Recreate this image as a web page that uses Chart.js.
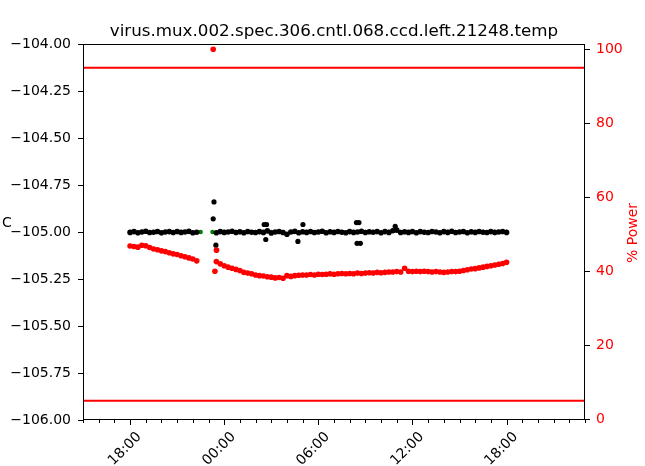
<!DOCTYPE html>
<html>
<head>
<meta charset="utf-8">
<script src="https://cdn.jsdelivr.net/npm/chart.js@4.4.1/dist/chart.umd.min.js"></script>
<style>
  html, body { margin: 0; padding: 0; background: #fff; }
  canvas { display: block; }
</style>
</head>
<body>
<canvas id="myChart" width="645" height="466"></canvas>
<script>
const chartTitle = 'virus.mux.002.spec.306.cntl.068.ccd.left.21248.temp';

// regular samples, hours counted from midnight of the first day
const sampleStart = 18;
const sampleStep = 0.25;

const tempValues = [
  -105.002, -104.998, -105.004, -105.000, -104.996, -105.003, -105.001, -104.997, -105.004,
  -105.000, -104.998, -105.003, -104.997, -105.002, -105.000, -104.996, -105.004, -105.001,
  null, null, null, null,
  -105.004, -104.998,
  -105.002, -105.000, -104.996, -105.003,
  -104.999, -105.004, -104.997, -105.001,
  -105.003, -104.998, -105.002, -104.994,
  -105.005, -105.000, -104.997, -105.003,
  -105.012, -105.000, -104.996, -105.004,
  -104.999, -105.002, -104.997, -105.003,
  -105.000, -104.996, -105.004, -104.999,
  -105.002, -104.997, -105.001, -105.004,
  -104.998, -105.002, -105.000, -104.996,
  -105.003, -104.999, -105.001, -104.997,
  -105.004, -104.998, -105.002, -104.993,
  -104.990, -105.003, -104.999, -105.002,
  -104.997, -105.004, -104.998, -105.001,
  -105.003, -104.997, -105.000, -105.004,
  -104.998, -105.002, -104.996, -105.003,
  -105.000, -104.997, -105.004, -104.999,
  -105.002, -104.997, -105.001, -105.003,
  -104.998, -105.002, -105.000, -104.997,
  -105.002
];

const powerValues = [
  46.8, 46.7, 46.5, 47.0, 46.9, 46.4, 46.0, 45.8, 45.5,
  45.3, 45.0, 44.7, 44.5, 44.2, 43.9, 43.6, 43.3, 42.8,
  null, null, null, null,
  42.6, 42.0,
  41.5, 41.1, 40.8, 40.5,
  40.2, 39.7, 39.5, 39.3,
  39.0, 38.8, 38.7, 38.5,
  38.4, 38.2, 38.3, 38.1,
  38.8, 38.6, 38.8, 38.9,
  39.0, 39.0, 39.1, 39.0,
  39.2, 39.1, 39.2, 39.3,
  39.2, 39.3, 39.4, 39.3,
  39.4, 39.3, 39.5, 39.4,
  39.5, 39.6, 39.5, 39.7,
  39.6, 39.7, 39.8, 39.8,
  39.9, 39.8, 40.8, 40.0,
  39.9, 40.0, 39.9, 40.0,
  39.9, 39.8, 39.9, 39.8,
  39.7, 39.8, 39.9, 39.9,
  40.0, 40.2, 40.4, 40.6,
  40.7, 40.9, 41.1, 41.3,
  41.5, 41.7, 41.9, 42.1,
  42.4
];

// setpoint is logged less often
const setStart = 18;
const setStep = 0.75;
const setValues = [
  -105, -105, -105, -105, -105, -105, -105, -105, -105, -105, -105,
  -105, -105, -105, -105, -105, -105, -105, -105, -105, -105, -105,
  -105, -105, -105, -105, -105, -105, -105, -105, -105, -105, -105
];

// odd readings off the regular grid
const tempExtraHours = [23.30, 23.35, 23.47, 26.55, 26.70, 26.65, 28.70, 29.02, 32.43, 32.59, 32.47, 32.68, 34.90];
const tempExtraValues = [-104.93, -104.84, -105.07, -104.96, -104.96, -105.04, -105.05, -104.96, -104.95, -104.95, -105.06, -105.06, -104.97];
const powerExtraHours = [23.30, 23.51, 23.41];
const powerExtraValues = [100, 45.7, 40.0];

// power limits (right axis)
const limitHours = [15, 47];
const limitHigh = 95;
const limitLow = 5;

const xTickHours = [18, 24, 30, 36, 42];
const xTickLabels = ['18:00', '00:00', '06:00', '12:00', '18:00'];
const powerTicks = [0, 20, 40, 60, 80, 100];

function regular(start, step, values) {
  return values.map((v, i) => ({ x: start + i * step, y: v }));
}
function paired(xs, ys) {
  return xs.map((x, i) => ({ x: x, y: ys[i] }));
}

Chart.defaults.font.family = 'DejaVu Sans';
Chart.defaults.font.size = 14;
Chart.defaults.color = '#000';

const decorations = {
  id: 'decorations',
  afterDraw(chart) {
    const ctx = chart.ctx;
    const a = chart.chartArea;
    const xs = chart.scales.x;
    ctx.save();
    ctx.strokeStyle = '#000';
    ctx.lineWidth = 1;
    ctx.strokeRect(Math.round(a.left) + 0.5, Math.round(a.top) + 0.5,
      Math.round(a.right - a.left) - 1, Math.round(a.bottom - a.top) - 1);

    // hourly minor ticks, major every 6 hours
    ctx.beginPath();
    for (let h = Math.ceil(xs.min); h <= xs.max; h++) {
      const px = Math.round(xs.getPixelForValue(h)) + 0.5;
      const len = xTickHours.includes(h) ? 5 : 3;
      ctx.moveTo(px, a.bottom);
      ctx.lineTo(px, a.bottom + len);
    }
    ctx.stroke();

    ctx.fillStyle = '#000';
    ctx.font = '14px DejaVu Sans';
    ctx.textAlign = 'center';
    ctx.textBaseline = 'middle';
    xTickHours.forEach((h, i) => {
      ctx.save();
      ctx.translate(xs.getPixelForValue(h) - 5, a.bottom + 29);
      ctx.rotate(-Math.PI / 4);
      ctx.fillText(xTickLabels[i], 0, 0);
      ctx.restore();
    });

    ctx.fillText('C', 7, 223);

    ctx.save();
    ctx.fillStyle = '#ff0000';
    ctx.translate(633, 233);
    ctx.rotate(-Math.PI / 2);
    ctx.fillText('% Power', 0, 0);
    ctx.restore();

    ctx.font = '16.7px DejaVu Sans';
    ctx.textBaseline = 'alphabetic';
    ctx.fillText(chartTitle, (a.left + a.right) / 2, 36);
    ctx.restore();
  }
};

const ctx = document.getElementById('myChart').getContext('2d');
new Chart(ctx, {
  type: 'scatter',
  data: {
    datasets: [
      { data: paired(powerExtraHours, powerExtraValues), yAxisID: 'y2', backgroundColor: '#ff0000', pointRadius: 2.8, borderWidth: 0 },
      { data: regular(sampleStart, sampleStep, powerValues), yAxisID: 'y2', backgroundColor: '#ff0000', pointRadius: 2.8, borderWidth: 0 },
      { data: paired(tempExtraHours, tempExtraValues), yAxisID: 'y', backgroundColor: '#000', pointRadius: 2.6, borderWidth: 0 },
      { data: regular(sampleStart, sampleStep, tempValues), yAxisID: 'y', backgroundColor: '#000', pointRadius: 2.8, borderWidth: 0 },
      { data: regular(setStart, setStep, setValues), yAxisID: 'y', backgroundColor: '#008000', pointRadius: 2.2, borderWidth: 0 },
      { data: paired(limitHours, [limitHigh, limitHigh]), yAxisID: 'y2', showLine: true, borderColor: '#ff0000', borderWidth: 2, pointRadius: 0 },
      { data: paired(limitHours, [limitLow, limitLow]), yAxisID: 'y2', showLine: true, borderColor: '#ff0000', borderWidth: 2, pointRadius: 0 }
    ]
  },
  options: {
    responsive: false,
    animation: false,
    devicePixelRatio: 1,
    layout: { padding: { top: 44, left: 0, right: 0, bottom: 0 }, autoPadding: false },
    plugins: { legend: { display: false }, tooltip: { enabled: false }, title: { display: false } },
    scales: {
      x: {
        type: 'linear',
        min: 15,
        max: 47,
        grid: { display: false },
        border: { display: false },
        ticks: { display: false },
        afterFit(scale) { scale.height = 46; }
      },
      y: {
        position: 'left',
        min: -106,
        max: -104,
        grid: { drawOnChartArea: false, color: '#000', tickLength: 5 },
        border: { display: false },
        ticks: {
          stepSize: 0.25,
          padding: 7,
          color: '#000',
          callback: v => (v < 0 ? '\u2212' : '') + Math.abs(v).toFixed(2)
        },
        afterFit(scale) { scale.width = 83; }
      },
      y2: {
        position: 'right',
        min: -0.2,
        max: 101.4,
        grid: { drawOnChartArea: false, color: '#000', tickLength: 5 },
        border: { display: false },
        ticks: { padding: 6, color: '#ff0000' },
        afterBuildTicks(scale) { scale.ticks = powerTicks.map(v => ({ value: v })); },
        afterFit(scale) { scale.width = 60; }
      }
    }
  },
  plugins: [decorations]
});
</script>
</body>
</html>
